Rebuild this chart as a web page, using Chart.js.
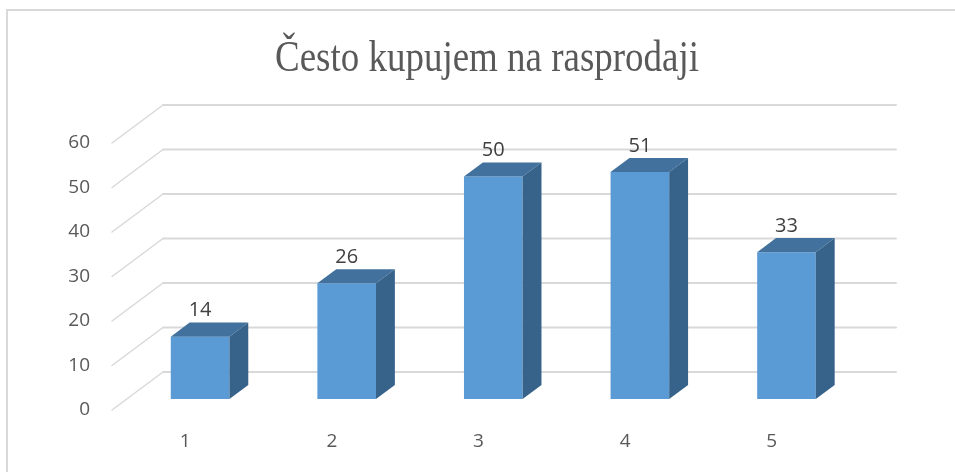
<!DOCTYPE html>
<html>
<head>
<meta charset="utf-8">
<script src="https://cdn.jsdelivr.net/npm/chart.js@4.4.1/dist/chart.umd.min.js"></script>
<style>
  html, body { margin: 0; padding: 0; background: #fff; }
  canvas { display: block; }
</style>
</head>
<body>
<canvas id="chart" width="955" height="472"></canvas>
<script>
const categories = ['1', '2', '3', '4', '5'];
const values = [14, 26, 50, 51, 33];
const yTickValues = [0, 10, 20, 30, 40, 50, 60];
const title = 'Često kupujem na rasprodaji';

// perspective of the 3D box: floor depth and where the bars sit inside it
const DEPTH_X = 51;
const DEPTH_Y = 38;
const BAR_FRONT = 0.29;
const BAR_DEPTH = 0.37;

const FRONT = '#5b9bd5';
const TOP = '#41719c';
const SIDE = '#37628a';
const GRID = '#d9d9d9';

const threeD = {
  id: 'threeD',
  beforeDraw(chart) {
    const ctx = chart.ctx;
    ctx.save();
    ctx.fillStyle = '#fff';
    ctx.fillRect(0, 0, chart.width, chart.height);
    // outer frame (only left and top edges fall inside the canvas)
    ctx.strokeStyle = GRID;
    ctx.lineWidth = 2;
    ctx.beginPath();
    ctx.moveTo(7, chart.height);
    ctx.lineTo(7, 10);
    ctx.lineTo(chart.width, 10);
    ctx.stroke();

    // title, condensed serif
    ctx.fillStyle = '#595959';
    ctx.font = '44px "Liberation Serif", "Times New Roman", serif';
    ctx.textAlign = 'center';
    ctx.textBaseline = 'alphabetic';
    ctx.translate(487, 71);
    ctx.scale(0.84, 1);
    ctx.fillText(title, 0, 0);
    ctx.restore();
  },
  beforeDatasetsDraw(chart) {
    const ctx = chart.ctx;
    const area = chart.chartArea;
    const y = chart.scales.y;
    ctx.save();
    ctx.strokeStyle = GRID;
    ctx.lineCap = 'round';
    y.ticks.forEach(t => {
      const py = y.getPixelForValue(t.value);
      ctx.lineWidth = 1.5;
      ctx.beginPath();
      ctx.moveTo(area.left, py);
      ctx.lineTo(area.left + DEPTH_X, py - DEPTH_Y);
      ctx.stroke();
      ctx.lineWidth = 2;
      ctx.beginPath();
      ctx.moveTo(area.left + DEPTH_X, py - DEPTH_Y);
      ctx.lineTo(area.right + DEPTH_X, py - DEPTH_Y);
      ctx.stroke();
    });
    ctx.restore();
    // front faces are pushed back into the box
    ctx.save();
    ctx.translate(DEPTH_X * BAR_FRONT, -DEPTH_Y * BAR_FRONT);
  },
  afterDatasetsDraw(chart) {
    const ctx = chart.ctx;
    ctx.restore();
    const ox = DEPTH_X * BAR_FRONT, oy = -DEPTH_Y * BAR_FRONT;
    const dx = DEPTH_X * BAR_DEPTH, dy = -DEPTH_Y * BAR_DEPTH;
    ctx.save();
    chart.getDatasetMeta(0).data.forEach((bar, i) => {
      const x0 = bar.x - bar.width / 2 + ox;
      const x1 = bar.x + bar.width / 2 + ox;
      const top = bar.y + oy;
      const base = bar.base + oy;
      // top face
      ctx.fillStyle = TOP;
      ctx.beginPath();
      ctx.moveTo(x0, top);
      ctx.lineTo(x1, top);
      ctx.lineTo(x1 + dx, top + dy);
      ctx.lineTo(x0 + dx, top + dy);
      ctx.closePath();
      ctx.fill();
      // right side face
      ctx.fillStyle = SIDE;
      ctx.beginPath();
      ctx.moveTo(x1, top);
      ctx.lineTo(x1 + dx, top + dy);
      ctx.lineTo(x1 + dx, base + dy);
      ctx.lineTo(x1, base);
      ctx.closePath();
      ctx.fill();
      // value label above the box
      ctx.fillStyle = '#404040';
      ctx.font = '20px "Open Sans", sans-serif';
      ctx.textAlign = 'center';
      ctx.textBaseline = 'middle';
      ctx.fillText(String(values[i]), bar.x + ox, top + dy - 12);
    });
    ctx.restore();
  }
};

new Chart(document.getElementById('chart'), {
  type: 'bar',
  data: {
    labels: categories,
    datasets: [{
      data: values,
      backgroundColor: FRONT,
      borderWidth: 0,
      categoryPercentage: 1,
      barPercentage: 0.4
    }]
  },
  options: {
    responsive: false,
    animation: false,
    layout: { padding: { top: 143, right: 110, bottom: 0, left: 0 } },
    plugins: {
      legend: { display: false },
      tooltip: { enabled: false },
      title: { display: false }
    },
    scales: {
      x: {
        grid: { display: false, drawTicks: false },
        border: { display: false },
        ticks: {
          color: '#595959',
          font: { family: '"Open Sans", sans-serif', size: 19 },
          padding: 20
        },
        afterFit(scale) { scale.height = 62; }
      },
      y: {
        min: yTickValues[0],
        max: yTickValues[yTickValues.length - 1],
        grid: { display: false, drawTicks: false },
        border: { display: false },
        afterBuildTicks(scale) {
          scale.ticks = yTickValues.map(v => ({ value: v }));
        },
        ticks: {
          color: '#595959',
          font: { family: '"Open Sans", sans-serif', size: 19 },
          padding: 22
        },
        afterFit(scale) { scale.width = 112; }
      }
    }
  },
  plugins: [threeD]
});
</script>
</body>
</html>
